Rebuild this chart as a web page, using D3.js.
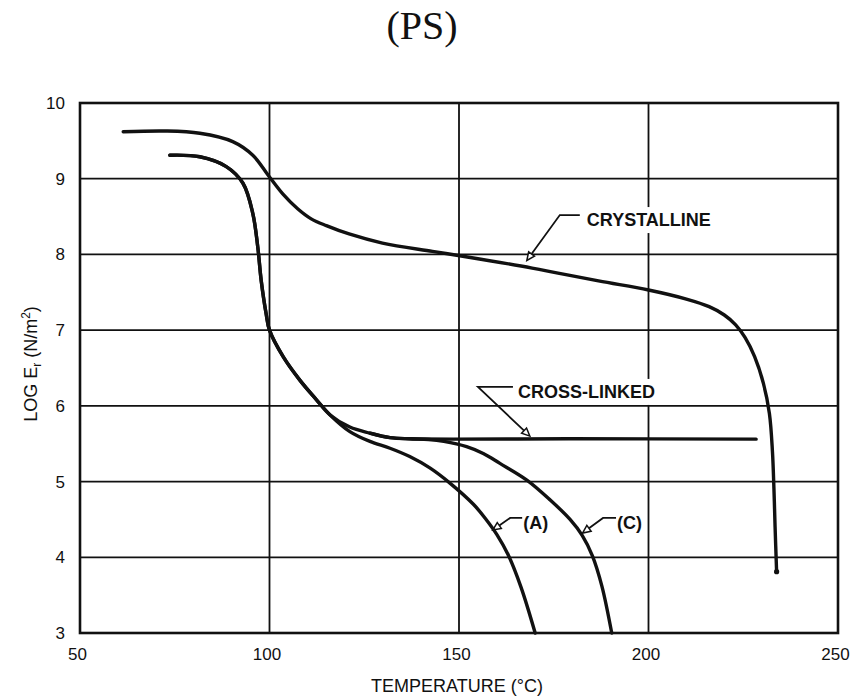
<!DOCTYPE html>
<html>
<head>
<meta charset="utf-8">
<script src="https://cdn.jsdelivr.net/npm/d3@7"></script>
<style>
  body { margin: 0; background: #fff; }
  text { font-family: "Liberation Sans", Arial, sans-serif; fill: #111; }
</style>
</head>
<body>
<script>
const width = 854;
const height = 698;
const margin = {top: 103, right: 16, bottom: 65, left: 80};

// temperature (deg C) vs log E_r
const xTicks = [50, 100, 150, 200, 250];
const yTicks = [3, 4, 5, 6, 7, 8, 9, 10];

const crystalline = [
  [61.4, 9.62], [72.8, 9.63], [81.6, 9.60], [90.3, 9.49], [95.6, 9.31],
  [99.6, 9.05], [103.5, 8.80], [107.5, 8.60], [111, 8.47], [115, 8.38],
  [121, 8.27], [129.8, 8.15], [143, 8.04], [151.8, 7.97], [169.3, 7.82],
  [186.8, 7.65], [200, 7.53], [210, 7.41], [216, 7.31], [220, 7.2],
  [223, 7.07], [225.5, 6.9], [228, 6.65], [230.3, 6.3], [231.9, 5.9],
  [232.7, 5.4], [233.1, 4.9], [233.4, 4.4], [233.8, 3.81]
];

const amorphousA = [
  [73.7, 9.31], [81.6, 9.29], [88.6, 9.16], [93, 8.94], [95.6, 8.54],
  [96.9, 8.10], [97.8, 7.66], [99.1, 7.22], [100, 7.0], [103.6, 6.65],
  [108, 6.34], [112.4, 6.08], [116, 5.88], [121.2, 5.66], [126.5, 5.53],
  [131.8, 5.44], [137, 5.33], [142.3, 5.18], [147.6, 4.98], [153.8, 4.70],
  [157, 4.51], [160, 4.30], [163, 4.03], [166.4, 3.6], [170.1, 3.0]
];

const curveC = [
  [73.7, 9.31], [81.6, 9.29], [88.6, 9.16], [93, 8.94], [95.6, 8.54],
  [96.9, 8.10], [97.8, 7.66], [99.1, 7.22], [100, 7.0], [103.6, 6.65],
  [108, 6.34], [112.4, 6.08], [116, 5.88], [121.2, 5.72], [126.5, 5.64],
  [131.8, 5.58], [137, 5.565], [142, 5.555], [146, 5.53], [152, 5.46],
  [156.4, 5.37], [160.8, 5.24], [167.9, 5.02], [174, 4.76], [179.3, 4.50],
  [182.5, 4.29], [185.2, 4.02], [187.7, 3.62], [190.3, 3.0]
];

const crossLinked = [
  [126.5, 5.64], [131.8, 5.58], [137, 5.565], [180, 5.565], [228.4, 5.56]
];

const series = [crystalline, amorphousA, curveC, crossLinked];

// callouts: tip on the curve, elbow of the leader (data units), run/gap in px
const annotations = [
  {label: "CRYSTALLINE",  tip: [167.9, 7.92], elbow: [176.6, 8.52], run: 20, gap: 7},
  {label: "CROSS-LINKED", tip: [168.7, 5.60], elbow: [155.0, 6.25], run: 35, gap: 5},
  {label: "(A)",          tip: [158.9, 4.36], elbow: [163.5, 4.52], run: 12, gap: 1},
  {label: "(C)",          tip: [182.6, 4.32], elbow: [188.0, 4.52], run: 13, gap: 1}
];

const svg = d3.select("body").append("svg")
    .attr("width", width)
    .attr("height", height);

const x = d3.scaleLinear().domain([50, 250]).range([margin.left, width - margin.right]);
const y = d3.scaleLinear().domain([3, 10]).range([height - margin.bottom, margin.top]);

// title
svg.append("text")
    .attr("x", 422)
    .attr("y", 39)
    .attr("text-anchor", "middle")
    .style("font-family", "'Liberation Serif', 'Times New Roman', serif")
    .style("font-size", "40px")
    .text("(PS)");

// grid
const grid = svg.append("g").attr("stroke", "#111").attr("stroke-width", 1.8);
grid.selectAll(".gx")
    .data(xTicks.slice(1, -1))
    .join("line")
    .attr("x1", d => x(d)).attr("x2", d => x(d))
    .attr("y1", y(3)).attr("y2", y(10));
grid.selectAll(".gy")
    .data(yTicks.slice(1, -1))
    .join("line")
    .attr("x1", x(50)).attr("x2", x(250))
    .attr("y1", d => y(d)).attr("y2", d => y(d));

// axes labels
const xAxis = svg.append("g")
    .attr("transform", `translate(0,${y(3)})`)
    .call(d3.axisBottom(x).tickValues(xTicks).tickFormat(d3.format("d")).tickSize(0).tickPadding(15));
xAxis.select(".domain").remove();
xAxis.selectAll("text").style("font-size", "17px").attr("dx", -3).attr("fill", "#111");

const yAxis = svg.append("g")
    .attr("transform", `translate(${x(50)},0)`)
    .call(d3.axisLeft(y).tickValues(yTicks).tickFormat(d3.format("d")).tickSize(0).tickPadding(15));
yAxis.select(".domain").remove();
yAxis.selectAll("text").style("font-size", "17px").attr("fill", "#111");

svg.append("text")
    .attr("x", 457)
    .attr("y", 692)
    .attr("text-anchor", "middle")
    .style("font-size", "18px")
    .text("TEMPERATURE (°C)");

const yTitle = svg.append("text")
    .attr("transform", "translate(37,364) rotate(-90)")
    .attr("text-anchor", "middle")
    .style("font-size", "18px");
yTitle.append("tspan").text("LOG E");
yTitle.append("tspan").attr("dy", 4).style("font-size", "12px").text("r");
yTitle.append("tspan").attr("dy", -4).text(" (N/m");
yTitle.append("tspan").attr("dy", -7).style("font-size", "12px").text("2");
yTitle.append("tspan").attr("dy", 7).text(")");

// callout labels with white backing that breaks the grid
const ann = svg.append("g");
annotations.forEach(a => {
  const ex = x(a.elbow[0]), ey = y(a.elbow[1]);
  const tx = ex + a.run + a.gap;
  const t = ann.append("text")
      .attr("x", tx)
      .attr("y", ey + 11)
      .style("font-size", "18px")
      .style("font-weight", "bold")
      .text(a.label);
  const bb = t.node().getBBox();
  ann.insert("rect", "text")
      .attr("x", bb.x - 4).attr("y", bb.y - 3)
      .attr("width", bb.width + 8).attr("height", bb.height + 6)
      .attr("fill", "#fff");
});

// frame
svg.append("rect")
    .attr("x", x(50)).attr("y", y(10))
    .attr("width", x(250) - x(50)).attr("height", y(3) - y(10))
    .attr("fill", "none").attr("stroke", "#111").attr("stroke-width", 2.6);

// curves
const line = d3.line()
    .x(d => x(d[0]))
    .y(d => y(d[1]))
    .curve(d3.curveCatmullRom.alpha(0.5));

svg.append("g")
  .selectAll("path")
  .data(series)
  .join("path")
    .attr("d", line)
    .attr("fill", "none")
    .attr("stroke", "#111")
    .attr("stroke-width", 3.4)
    .attr("stroke-linecap", "round");

svg.append("circle")
    .attr("cx", x(crystalline[crystalline.length - 1][0]))
    .attr("cy", y(crystalline[crystalline.length - 1][1]))
    .attr("r", 2.6)
    .attr("fill", "#111");

// leaders with small open arrowheads
annotations.forEach(a => {
  const ex = x(a.elbow[0]), ey = y(a.elbow[1]);
  const px = x(a.tip[0]), py = y(a.tip[1]);
  const ang = Math.atan2(py - ey, px - ex);
  const len = 8, hw = 3.6;
  const bx = px - len * Math.cos(ang), by = py - len * Math.sin(ang);
  ann.append("path")
      .attr("d", `M${ex + a.run},${ey}H${ex}L${bx},${by}`)
      .attr("fill", "none").attr("stroke", "#111").attr("stroke-width", 1.8);
  const nx = -Math.sin(ang) * hw, ny = Math.cos(ang) * hw;
  ann.append("path")
      .attr("d", `M${px},${py}L${bx + nx},${by + ny}L${bx - nx},${by - ny}Z`)
      .attr("fill", "#fff").attr("stroke", "#111").attr("stroke-width", 1.5);
});
</script>
</body>
</html>
